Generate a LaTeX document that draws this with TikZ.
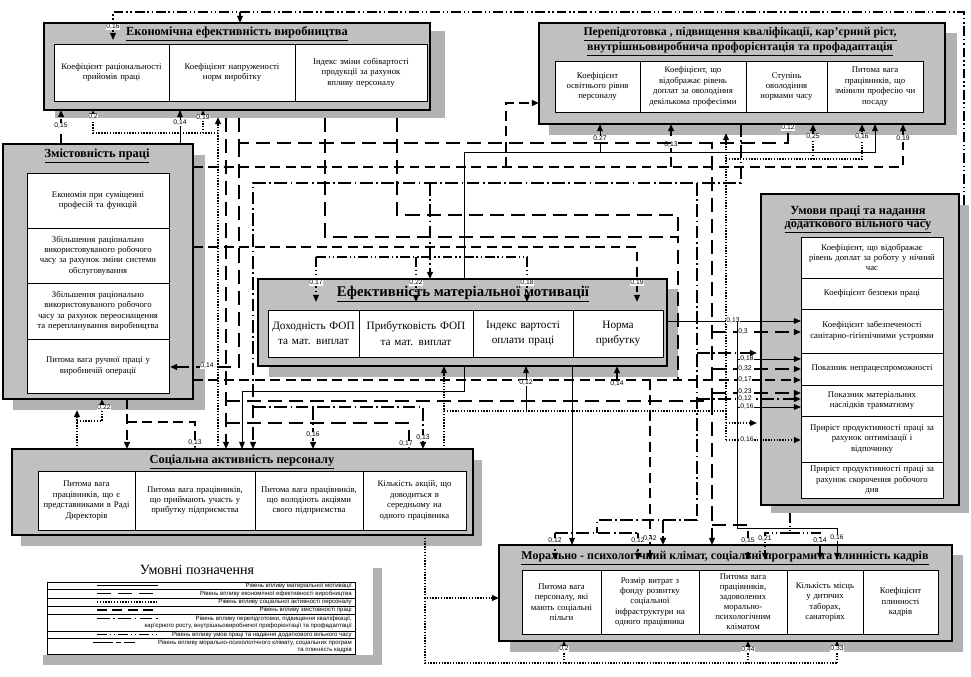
\documentclass[tikz,border=0pt]{standalone}
\usepackage{fontspec}
\setmainfont{Liberation Serif}
\setsansfont{Liberation Sans}
\usetikzlibrary{arrows.meta}
\newdimen\pxu \pxu=0.025cm
\definecolor{boxgray}{RGB}{192,192,192}
\definecolor{shgray}{RGB}{178,178,178}
\tikzset{
 outerbox/.style={fill=boxgray,draw=black,line width=0.8pt,inner sep=0pt},
 cell/.style={draw=black,fill=white,line width=0.6pt,align=center,inner sep=0pt,font=\fontsize{6.2}{7.4}\selectfont},
 ttl/.style={font=\fontsize{8.8}{10}\selectfont\bfseries,inner sep=0pt},
 lbl/.style={fill=white,inner sep=0.4pt,font=\fontsize{4.8}{5}\sffamily},
 arr/.style={-{Triangle[length=5pt,width=4pt]}},
 mat/.style={line width=0.6pt},
 econ/.style={line width=1.4pt,dash pattern=on 10pt off 5pt},
 soc/.style={line width=1.2pt,dash pattern=on 1pt off 1pt},
 zmist/.style={line width=1.4pt,dash pattern=on 7pt off 4pt},
 perep/.style={line width=1.3pt,dash pattern=on 9pt off 2.5pt on 1.2pt off 2.5pt},
 umovy/.style={line width=1pt,dash pattern=on 7pt off 2pt on 1pt off 2pt on 1pt off 2pt},
 moral/.style={line width=1.4pt,dash pattern=on 14pt off 2pt on 4pt off 2pt},
 legtxt/.style={font=\fontsize{4.3}{5}\sffamily,inner sep=0pt,anchor=east},
}
\begin{document}
\begin{tikzpicture}[x=0.025cm,y=-0.025cm]
\useasboundingbox (0,0) rectangle (971,676);
\fill[white] (0,0) rectangle (971,676);

% ---------- boxes ----------
% Economic efficiency
\fill[shgray] (55,31) rectangle (445,118);
\node[outerbox,minimum width=386\pxu,minimum height=87\pxu] (econ) at (237,66.5) {};
\node[ttl] (econT) at (237,34) {\underline{Економічна ефективність виробництва}};
\node[cell,minimum width=115\pxu,minimum height=57\pxu,text width=111\pxu] (e1) at (111.5,72.5) {Коефіцієнт раціональності\\ прийомів праці};
\node[cell,minimum width=126\pxu,minimum height=57\pxu,text width=122\pxu] (e2) at (232,72.5) {Коефіцієнт напруженості\\ норм виробітку};
\node[cell,minimum width=132\pxu,minimum height=57\pxu,text width=128\pxu] (e3) at (361,72.5) {Індекс зміни собівартості\\ продукції за рахунок\\ впливу персоналу};

% Retraining
\fill[shgray] (549,33) rectangle (957,135);
\node[outerbox,minimum width=406\pxu,minimum height=101\pxu] (perep) at (742,73.5) {};
\node[ttl,font=\fontsize{8.4}{10}\selectfont\bfseries] (perT1) at (740,34) {\underline{Перепідготовка , підвищення кваліфікації, кар'єрний ріст,}};
\node[ttl,font=\fontsize{8.4}{10}\selectfont\bfseries] (perT2) at (740,49) {\underline{внутрішньовиробнича профорієнтація та профадаптація}};
\node[cell,minimum width=85\pxu,minimum height=51\pxu,text width=81\pxu] (p1) at (597.5,86.5) {Коефіцієнт\\ освітнього рівня\\ персоналу};
\node[cell,minimum width=106\pxu,minimum height=51\pxu,text width=104\pxu] (p2) at (693,86.5) {Коефіцієнт, що\\ відображає рівень\\ доплат за оволодіння\\ декількома професіями};
\node[cell,minimum width=81\pxu,minimum height=51\pxu,text width=77\pxu] (p3) at (786.5,86.5) {Ступінь\\ оволодіння\\ нормами часу};
\node[cell,minimum width=96\pxu,minimum height=51\pxu,text width=92\pxu] (p4) at (875,86.5) {Питома вага\\ працівників, що\\ змінили професію чи\\ посаду};

% Content of work
\fill[shgray] (13,155) rectangle (205,410);
\node[outerbox,minimum width=190\pxu,minimum height=255\pxu] (zmist) at (98,271.5) {};
\node[ttl] (zmT) at (97,156) {\underline{Змістовність праці}};
\node[cell,minimum width=142\pxu,minimum height=55\pxu,text width=138\pxu] (z1) at (98,200.5) {Економія при суміщенні\\ професій та функцій};
\node[cell,minimum width=142\pxu,minimum height=55\pxu,text width=140\pxu] (z2) at (98,255.5) {Збільшення раціонально\\ використовуваного робочого\\ часу за рахунок зміни системи\\ обслуговування};
\node[cell,minimum width=142\pxu,minimum height=56\pxu,text width=140\pxu] (z3) at (98,311) {Збільшення раціонально\\ використовуваного робочого\\ часу за рахунок переоснащення\\ та перепланування виробництва};
\node[cell,minimum width=142\pxu,minimum height=54\pxu,text width=138\pxu] (z4) at (98,366) {Питома вага ручної праці у\\ виробничій операції};

% Working conditions
\fill[shgray] (771,205) rectangle (969,513);
\node[outerbox,minimum width=198\pxu,minimum height=311\pxu] (umovy) at (860,349.5) {};
\node[ttl] (umT1) at (858,213) {\underline{Умови праці та надання}};
\node[ttl] (umT2) at (858,226) {\underline{додаткового вільного часу}};
\node[cell,minimum width=142\pxu,minimum height=41\pxu,text width=140\pxu] (u1) at (872,257.5) {Коефіцієнт, що відображає\\ рівень доплат за роботу у нічний\\ час};
\node[cell,minimum width=142\pxu,minimum height=31\pxu,text width=138\pxu] (u2) at (872,293.5) {Коефіцієнт безпеки праці};
\node[cell,minimum width=142\pxu,minimum height=44\pxu,text width=140\pxu] (u3) at (872,331) {Коефіцієнт забезпеченості\\ санітарно-гігієнічними устроями};
\node[cell,minimum width=142\pxu,minimum height=32\pxu,text width=138\pxu] (u4) at (872,369) {Показник непрацеспроможності};
\node[cell,minimum width=142\pxu,minimum height=31\pxu,text width=138\pxu] (u5) at (872,400.5) {Показник матеріальних\\ наслідків травматизму};
\node[cell,minimum width=142\pxu,minimum height=46\pxu,text width=140\pxu] (u6) at (872,439) {Приріст продуктивності праці за\\ рахунок оптимізації і\\ відпочинку};
\node[cell,minimum width=142\pxu,minimum height=36\pxu,text width=140\pxu] (u7) at (872,480) {Приріст продуктивності праці за\\ рахунок скорочення робочого\\ дня};

% Material motivation
\fill[shgray] (269,289) rectangle (678,377);
\node[outerbox,minimum width=409\pxu,minimum height=87\pxu] (cen) at (462.5,322.5) {};
\node[ttl,font=\fontsize{10.5}{12}\selectfont\bfseries] (cenT) at (463,294) {\underline{Ефективність матеріальної мотивації}};
\node[cell,font=\fontsize{8}{11}\selectfont,minimum width=91\pxu,minimum height=47\pxu,text width=91\pxu] (c1) at (313.5,333.5) {Доходність ФОП\\ та мат. виплат};
\node[cell,font=\fontsize{8}{11}\selectfont,minimum width=114\pxu,minimum height=47\pxu,text width=112\pxu] (c2) at (416,333.5) {Прибутковість ФОП\\ та мат. виплат};
\node[cell,font=\fontsize{8}{11}\selectfont,minimum width=100\pxu,minimum height=47\pxu,text width=98\pxu] (c3) at (523,333.5) {Індекс вартості\\ оплати праці};
\node[cell,font=\fontsize{8}{11}\selectfont,minimum width=90\pxu,minimum height=47\pxu,text width=88\pxu] (c4) at (618,333.5) {Норма\\ прибутку};

% Social activity
\fill[shgray] (21,460) rectangle (482,546);
\node[outerbox,minimum width=461\pxu,minimum height=86\pxu] (soc) at (242.5,492) {};
\node[ttl] (soT) at (242,462) {\underline{Соціальна активність персоналу}};
\node[cell,minimum width=97\pxu,minimum height=59\pxu,text width=97\pxu] (s1) at (86.5,500.5) {Питома вага\\ працівників, що є\\ представниками в Раді\\ Директорів};
\node[cell,minimum width=120\pxu,minimum height=59\pxu,text width=116\pxu] (s2) at (195,500.5) {Питома вага працівників,\\ що приймають участь у\\ прибутку підприємства};
\node[cell,minimum width=108\pxu,minimum height=59\pxu,text width=106\pxu] (s3) at (309,500.5) {Питома вага працівників,\\ що володіють акціями\\ свого підприємства};
\node[cell,minimum width=103\pxu,minimum height=59\pxu,text width=99\pxu] (s4) at (414.5,500.5) {Кількість акцій, що\\ доводиться в\\ середньому на\\ одного працівника};

% Moral climate
\fill[shgray] (510,555) rectangle (963,652);
\node[outerbox,minimum width=453\pxu,minimum height=96\pxu] (moral) at (725.5,593) {};
\node[ttl,font=\fontsize{8.5}{10}\selectfont\bfseries] (moT) at (725,558) {\underline{Морально - психологічний клімат, соціальні програми та плинність кадрів}};
\node[cell,minimum width=79\pxu,minimum height=64\pxu,text width=77\pxu] (m1) at (561.5,602) {Питома вага\\ персоналу, які\\ мають соціальні\\ пільги};
\node[cell,minimum width=98\pxu,minimum height=64\pxu,text width=96\pxu] (m2) at (650,602) {Розмір витрат з\\ фонду розвитку\\ соціальної\\ інфраструктури на\\ одного працівника};
\node[cell,minimum width=88\pxu,minimum height=64\pxu,text width=86\pxu,font=\fontsize{6.2}{7.1}\selectfont] (m3) at (743,602) {Питома вага\\ працівників,\\ задоволених\\ морально-\\ психологічним\\ кліматом};
\node[cell,minimum width=76\pxu,minimum height=64\pxu,text width=74\pxu] (m4) at (825,602) {Кількість місць\\ у дитячих\\ таборах,\\ санаторіях};
\node[cell,minimum width=75\pxu,minimum height=64\pxu,text width=73\pxu] (m5) at (900.5,602) {Коефіцієнт\\ плинності\\ кадрів};

% ---------- connectors ----------
% working conditions (dash-dot-dot)
\draw[umovy,arr] (964,205) |- (113,12) -- (113,40);
\draw[umovy,arr] (240,12) -- (240,23);
\node[lbl] at (113,27) {0,16};
\draw[umovy] (316,257) -- (527,257);
\draw[umovy,arr] (316,257) -- (316,302);
\draw[umovy,arr] (416,257) -- (416,302);
\draw[umovy,arr] (527,257) -- (527,302);
\node[lbl] at (316,283) {0,17};
\node[lbl] at (416,283) {0,22};
\node[lbl] at (527,283) {0,18};
\draw[umovy] (790,513) -- (790,533);
\draw[umovy,arr] (790,533) -| (765,560);
\draw[umovy,arr] (790,533) -| (820,560);
\node[lbl] at (765,539) {0,21};
\node[lbl] at (820,541) {0,14};

% content of work (dashed)
\draw[zmist,arr] (61,144) -- (61,110);
\node[lbl] at (61,126) {0,15};
\draw[zmist,arr] (193,167) -| (903,124);
\node[lbl] at (903,139) {0,19};
\draw[zmist,arr] (671,167) -- (671,124);
\node[lbl] at (671,145) {0,13};
\draw[zmist,arr] (506,167) |- (539,103);
\draw[zmist,arr] (193,247) -| (637,302);
\node[lbl] at (637,283) {0,19};
\draw[zmist,arr] (193,380) -- (801,380);
\node[lbl] at (745,380) {0,17};
\draw[zmist,arr] (617,380) -- (617,366);
\node[lbl] at (617,384) {0,14};
\draw[zmist,arr] (127,399) -- (127,449);
\draw[zmist,arr] (127,422) -| (195,449);
\node[lbl] at (195,443) {0,13};
\draw[zmist,arr] (650,380) -- (650,560);
\node[lbl] at (650,539) {0,42};

% economic efficiency (long dashes)
\draw[econ,arr] (239,118) |- (788,143) -- (788,124);
\node[lbl] at (788,128) {0,12};
\draw[econ,arr] (239,143) |- (170,367);
\node[lbl] at (207,366) {0,14};
\draw[econ,arr] (226,118) -- (226,449);
\draw[econ] (325,118) |- (678,237) -- (678,380);
\draw[econ] (397,118) |- (678,215) -- (678,237);
\draw[econ] (226,401) -| (712,143);
\draw[econ,arr] (712,332) -- (801,332);
\node[lbl] at (743,332) {0,3};
\draw[econ,arr] (712,369) -- (801,369);
\node[lbl] at (745,369) {0,32};
\draw[econ,arr] (712,393) -- (801,393);
\node[lbl] at (745,392) {0,23};
\draw[econ,arr] (712,401) -- (712,545);
\draw[econ,arr] (712,525) -| (748,560);
\node[lbl] at (748,541) {0,15};
\draw[econ,arr] (226,423) -| (409,449);
\node[lbl] at (406,444) {0,17};

% social activity (dotted)
\draw[soc,arr] (218,449) -- (218,117);
\draw[soc,arr] (218,133) -| (93,110);
\draw[soc,arr] (203,133) -- (203,110);
\node[lbl] at (93,117) {0,2};
\node[lbl] at (203,118) {0,19};
\draw[soc,arr] (77,449) -- (77,410);
\draw[soc,arr] (77,421) -| (102,399);
\node[lbl] at (104,408) {0,22};
\draw[soc,arr] (444,449) -- (444,366);
\draw[soc] (444,411) -- (726,411);
\draw[soc,arr] (726,440) -- (726,133);
\draw[soc,arr] (726,159) -| (862,124);
\node[lbl] at (862,137) {0,16};
\draw[soc,arr] (813,159) -- (813,124);
\node[lbl] at (813,137) {0,25};
\draw[soc,arr] (726,423) -- (757,423);
\draw[soc,arr] (726,440) -- (801,440);
\node[lbl] at (747,440) {0,16};
\draw[soc,arr] (425,535) |- (499,598);
\draw[soc] (425,598) |- (837,663);
\draw[soc,arr] (564,663) -- (564,641);
\draw[soc,arr] (748,663) -- (748,641);
\draw[soc,arr] (837,663) -- (837,641);
\node[lbl] at (564,649) {0,2};
\node[lbl] at (748,650) {0,44};
\node[lbl] at (837,649) {0,33};

% material motivation (solid)
\draw[mat,arr] (464,279) |- (875,152) -- (875,124);
\draw[mat,arr] (600,152) -- (600,124);
\node[lbl] at (600,139) {0,27};
\draw[mat,arr] (464,366) |- (242,391) -- (242,449);
\draw[mat,arr] (572,366) -- (572,545);
\draw[mat,arr] (667,321) -- (801,321);
\node[lbl] at (733,321) {0,13};
\draw[mat,arr] (737,321) |- (801,407);
\node[lbl] at (747,407) {0,16};
\draw[mat,arr] (737,359) -- (801,359);
\node[lbl] at (747,359) {0,18};
\draw[mat,arr] (180,144) -- (180,110);
\node[lbl] at (180,123) {0,14};
\draw[mat,arr] (737,407) |- (837,528) -- (837,560);
\node[lbl] at (837,538) {0,16};
\draw[mat,arr] (526,411) -- (526,366);
\node[lbl] at (526,383) {0,12};

% retraining (dash-dot)
\draw[perep,arr] (741,124) |- (253,183) -- (253,449);
\draw[perep,arr] (430,183) -- (430,279);
\draw[perep] (697,183) -- (697,520);
\draw[perep,arr] (253,407) -| (423,449);
\node[lbl] at (423,438) {0,13};
\draw[perep,arr] (313,407) -- (313,449);
\node[lbl] at (313,435) {0,16};
\draw[perep,arr] (697,353) -- (757,353);
\draw[perep,arr] (697,399) -- (801,399);
\node[lbl] at (745,399) {0,12};
\draw[perep] (697,520) -| (597,533);
\draw[perep] (555,533) -- (638,533);
\draw[perep,arr] (555,533) -- (555,560);
\draw[perep,arr] (638,533) -- (638,560);
\node[lbl] at (555,541) {0,12};
\node[lbl] at (638,541) {0,12};
\draw[perep,arr] (663,520) -- (663,545);

% ---------- legend ----------
\fill[shgray] (43,568) rectangle (382,665);
\fill[white] (35,558) rectangle (373,655);
\node[font=\fontsize{10}{12}\selectfont] (legT) at (197,570) {Умовні позначення};
\node[draw,line width=0.6pt,minimum width=308\pxu,minimum height=72\pxu,inner sep=0pt] (leg) at (201,618) {};
\foreach \yy in {589,598,606,614,631,638} \draw[line width=0.5pt] (47,\yy) -- (355,\yy);
\draw[mat] (97,585.5) -- (158,585.5);
\node[legtxt] at (352,585.5) {Рівень впливу матеріальної мотивації};
\draw[econ] (97,593.5) -- (158,593.5);
\node[legtxt] at (352,593.5) {Рівень впливу економічної ефективності виробництва};
\draw[soc] (97,602) -- (158,602);
\node[legtxt] at (352,602) {Рівень впливу соціальної активності персоналу};
\draw[zmist] (97,610) -- (158,610);
\node[legtxt] at (352,610) {Рівень впливу змістовності праці};
\draw[perep] (97,618.5) -- (158,618.5);
\node[legtxt] at (352,618.5) {Рівень впливу перепідготовки, підвищення кваліфікації,};
\node[legtxt] at (352,626) {кар'єрного росту, внутрішньовиробничої профорієнтації та профадаптації};
\draw[umovy] (97,634.5) -- (158,634.5);
\node[legtxt] at (352,634.5) {Рівень впливу умов праці та надання додаткового вільного часу};
\draw[moral] (93,642.5) -- (135,642.5);
\node[legtxt] at (352,642.5) {Рівень впливу морально-психологічного клімату, соціальних програм};
\node[legtxt] at (352,649.5) {та плинність кадрів};
\end{tikzpicture}
\end{document}
